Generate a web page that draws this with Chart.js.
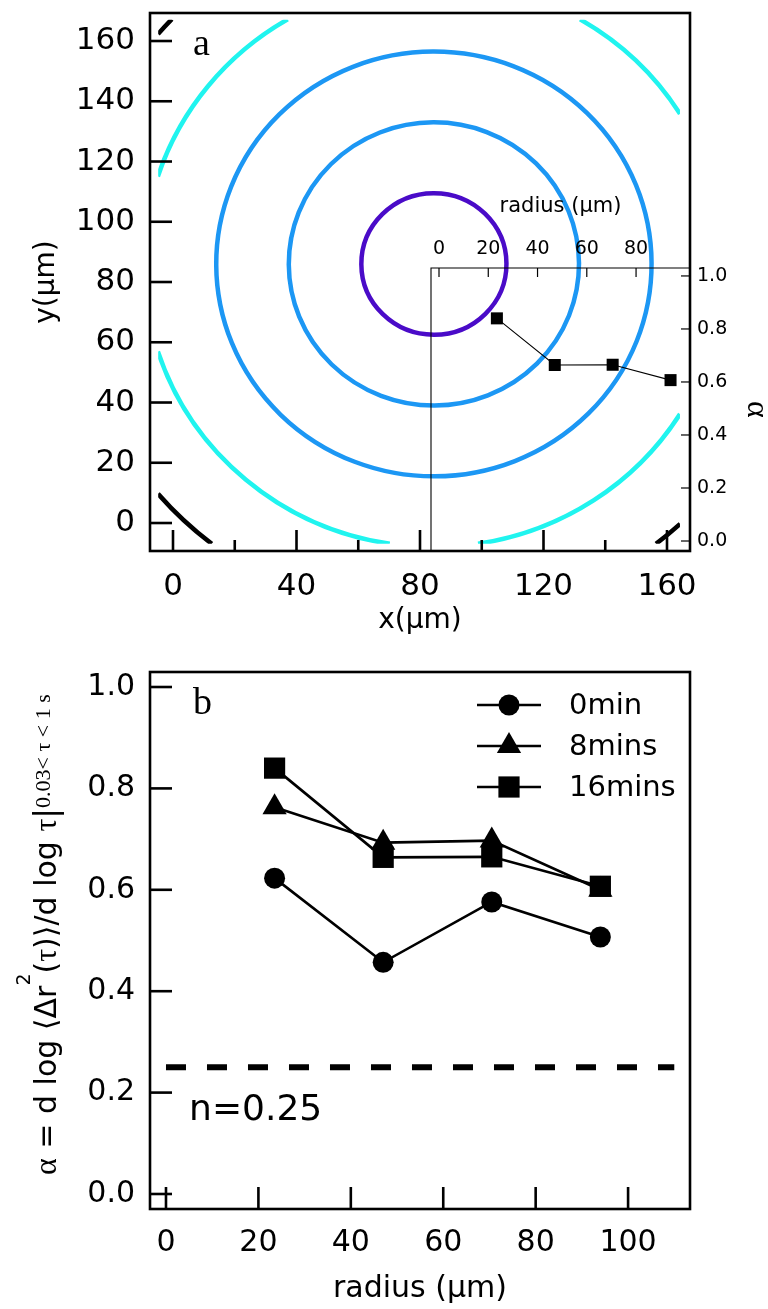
<!DOCTYPE html>
<html>
<head>
<meta charset="utf-8">
<script src="https://cdn.jsdelivr.net/npm/chart.js@4.4.1/dist/chart.umd.min.js"></script>
<style>
  html, body { margin: 0; padding: 0; background: #fff; }
  #wrap { position: relative; width: 768px; height: 1309px; overflow: hidden; }
  canvas { position: absolute; }
</style>
</head>
<body>
<div id="wrap">
  <canvas id="ringChart" width="768" height="650" style="left:0;top:0"></canvas>
  <canvas id="insetChart" width="388" height="400" style="left:380px;top:170px"></canvas>
  <canvas id="alphaChart" width="768" height="659" style="left:0;top:650px"></canvas>
</div>
<script>
// ---- data ----
const radii = [23.5, 47, 70.5, 94];              // radius of each ring (um)
const ringRadii = [23.5, 47, 70.5, 94, 117.5];   // rings drawn on the image (um)
const ringCenter = [84.5, 86];                   // x, y of ring centre (um)
const alpha0min = [0.623, 0.457, 0.576, 0.507];
const alpha8min = [0.763, 0.693, 0.697, 0.600];
const alpha16min = [0.840, 0.664, 0.665, 0.607];
const nLineX = [0, 110];
const nValue = 0.25;

// tick labels
const ringXTicks = [0, 40, 80, 120, 160];
const ringXMinor = [20, 60, 100, 140];
const ringYTicks = [0, 20, 40, 60, 80, 100, 120, 140, 160];
const insetXTicks = [0, 20, 40, 60, 80];
const alphaTicks = [0, 0.2, 0.4, 0.6, 0.8, 1.0];
const radiusTicks = [0, 20, 40, 60, 80, 100];

const ringColors = ['#4a0bc8', '#1c97f4', '#1c97f4', '#20f4ef', '#000000'];
const SANS = '"DejaVu Sans"';
const SERIF = '"Liberation Serif"';

Chart.defaults.font.family = SANS;
Chart.defaults.color = '#000';

function useTicks(values) {
  return function (scale) { scale.ticks = values.map(v => ({ value: v })); };
}
function fixSize(w, h) {
  return function (scale) {
    if (w !== null) scale.width = w;
    if (h !== null) scale.height = h;
    scale.paddingLeft = 0; scale.paddingRight = 0;
    scale.paddingTop = 0; scale.paddingBottom = 0;
  };
}

// inward ticks + frame
function makeDecor(cfg) {
  return {
    id: 'decor',
    afterDraw(chart) {
      const { ctx, chartArea: a, scales } = chart;
      ctx.save();
      ctx.strokeStyle = '#000';
      cfg.ticks.forEach(t => {
        const s = scales[t.axis];
        ctx.lineWidth = t.width;
        t.values.forEach(v => {
          const p = s.getPixelForValue(v);
          ctx.beginPath();
          if (t.side === 'bottom') { ctx.moveTo(p, a.bottom); ctx.lineTo(p, a.bottom - t.len); }
          else if (t.side === 'top') { ctx.moveTo(p, a.top); ctx.lineTo(p, a.top + t.len); }
          else if (t.side === 'left') { ctx.moveTo(a.left, p); ctx.lineTo(a.left + t.len, p); }
          else { ctx.moveTo(a.right, p); ctx.lineTo(a.right - t.len, p); }
          ctx.stroke();
        });
      });
      if (cfg.frame) {
        ctx.lineWidth = cfg.frame;
        ctx.strokeRect(a.left, a.top, a.right - a.left, a.bottom - a.top);
      }
      if (cfg.lines) {
        ctx.lineWidth = cfg.lines.width;
        ctx.beginPath();
        ctx.moveTo(a.left, a.bottom); ctx.lineTo(a.left, a.top); ctx.lineTo(a.right, a.top);
        ctx.stroke();
      }
      if (cfg.letter) {
        ctx.fillStyle = '#000';
        ctx.font = '38px ' + SERIF;
        ctx.textBaseline = 'alphabetic';
        ctx.fillText(cfg.letter, a.left + 43, a.top + 42);
      }
      ctx.restore();
    }
  };
}

// ---------- panel a : rings ----------
// the ring image only covers this part of the plot
const ringClip = { xMin: -4.8, xMax: 164.2, yMin: -6.9, yMax: 167.1 };
const ringPlugin = {
  id: 'rings',
  beforeDatasetsDraw(chart) {
    const { ctx, scales: { x, y } } = chart;
    const l = x.getPixelForValue(ringClip.xMin), r = x.getPixelForValue(ringClip.xMax);
    const tp = y.getPixelForValue(ringClip.yMax), b = y.getPixelForValue(ringClip.yMin);
    const cx = x.getPixelForValue(ringCenter[0]);
    const cy = y.getPixelForValue(ringCenter[1]);
    ctx.save();
    ctx.beginPath();
    ctx.rect(l, tp, r - l, b - tp);
    ctx.clip();
    ctx.lineWidth = 4.5;
    ringRadii.forEach((rad, i) => {
      const rx = Math.abs(x.getPixelForValue(ringCenter[0] + rad) - cx);
      const ry = Math.abs(y.getPixelForValue(ringCenter[1] + rad) - cy);
      // keep only the arcs whose centre line lies inside the image
      const n = 1440, step = Math.PI * 2 / n;
      const arcs = [];
      let start = null;
      for (let k = 0; k <= n; k++) {
        const t = k * step;
        const px = cx + rx * Math.cos(t), py = cy + ry * Math.sin(t);
        const inside = px >= l && px <= r && py >= tp && py <= b;
        if (inside && start === null) start = t;
        if ((!inside || k === n) && start !== null) { arcs.push([start - step, t]); start = null; }
      }
      ctx.strokeStyle = ringColors[i];
      arcs.forEach(([a0, a1]) => {
        ctx.beginPath();
        ctx.ellipse(cx, cy, rx, ry, 0, a0, a1);
        ctx.stroke();
      });
    });
    ctx.restore();
  }
};

new Chart(document.getElementById('ringChart'), {
  type: 'scatter',
  data: { datasets: [{ data: [] }] },
  options: {
    responsive: false,
    animation: false,
    layout: { padding: { top: 13, right: 78, bottom: 0, left: 0 } },
    plugins: { legend: { display: false }, tooltip: { enabled: false } },
    scales: {
      x: {
        type: 'linear', min: -7.45, max: 167.45,
        afterBuildTicks: useTicks(ringXTicks),
        afterFit: fixSize(null, 99),
        grid: { display: false, drawTicks: false },
        border: { display: false },
        ticks: { font: { size: 31 }, padding: 17 },
        title: { display: true, text: 'x(μm)', font: { size: 28 }, padding: { top: 0, bottom: 12 } }
      },
      y: {
        type: 'linear', min: -9.29, max: 169.3,
        afterBuildTicks: useTicks(ringYTicks),
        afterFit: fixSize(150, null),
        grid: { display: false, drawTicks: false },
        border: { display: false },
        ticks: { font: { size: 31 }, padding: 15 },
        title: { display: true, text: 'y(μm)', font: { size: 28 }, padding: { top: 30, bottom: 0 } }
      }
    }
  },
  plugins: [ringPlugin, makeDecor({
    frame: 2.6,
    letter: 'a',
    ticks: [
      { axis: 'x', side: 'bottom', values: ringXTicks, len: 21, width: 2.6 },
      { axis: 'x', side: 'bottom', values: ringXMinor, len: 11, width: 2.6 },
      { axis: 'y', side: 'left', values: ringYTicks, len: 22, width: 2.6 }
    ]
  })]
});

// ---------- panel a : inset alpha vs radius ----------
new Chart(document.getElementById('insetChart'), {
  type: 'scatter',
  data: {
    datasets: [{
      label: '16mins',
      data: radii.map((r, i) => ({ x: r, y: alpha16min[i] })),
      showLine: true,
      borderColor: '#000',
      borderWidth: 1.1,
      pointStyle: 'rect',
      pointRadius: 8.5,
      pointBackgroundColor: '#000',
      pointBorderColor: '#000',
      pointBorderWidth: 0
    }]
  },
  options: {
    responsive: false,
    animation: false,
    layout: { padding: { top: 0, right: 0, bottom: 19, left: 51 } },
    plugins: { legend: { display: false }, tooltip: { enabled: false } },
    scales: {
      x: {
        type: 'linear', position: 'top', min: -3.25, max: 101.9,
        afterBuildTicks: useTicks(insetXTicks),
        afterFit: fixSize(null, 98),
        grid: { display: false, drawTicks: false },
        border: { display: false },
        ticks: { font: { size: 19 }, padding: 8 },
        title: { display: true, text: 'radius (μm)', font: { size: 21 }, padding: { top: 24, bottom: 0 } }
      },
      y: {
        type: 'linear', position: 'right', min: -0.0377, max: 1.03,
        afterBuildTicks: useTicks(alphaTicks),
        afterFit: fixSize(78, null),
        grid: { display: false, drawTicks: false },
        border: { display: false },
        ticks: { font: { size: 19 }, padding: 7, callback: v => v.toFixed(1) },
        title: { display: true, text: 'α', font: { size: 32, family: SERIF, lineHeight: 0.7 }, padding: 0 }
      }
    }
  },
  plugins: [makeDecor({
    lines: { width: 1.1 },
    ticks: [
      { axis: 'x', side: 'top', values: insetXTicks, len: 9, width: 1.2 },
      { axis: 'y', side: 'right', values: alphaTicks, len: 9, width: 1.2 }
    ]
  })]
});

// ---------- panel b : alpha vs radius ----------
const series = [
  { label: '0min', values: alpha0min, style: 'circle', r: 10.5 },
  { label: '8mins', values: alpha8min, style: 'triangle', r: 14 },
  { label: '16mins', values: alpha16min, style: 'rect', r: 15 }
];

const legendPlugin = {
  id: 'bLegend',
  afterDraw(chart) {
    const { ctx, chartArea: a, scales: { x, y } } = chart;
    ctx.save();
    ctx.fillStyle = '#000';
    ctx.strokeStyle = '#000';
    series.forEach((s, i) => {
      const ry = a.top + 33 + i * 41;
      ctx.lineWidth = 2.6;
      ctx.beginPath();
      ctx.moveTo(a.right - 213, ry); ctx.lineTo(a.right - 149, ry);
      ctx.stroke();
      Chart.helpers.drawPoint(ctx, { pointStyle: s.style, rotation: 0, radius: s.r, borderWidth: 0 }, a.right - 181, ry);
      ctx.font = '29px ' + SANS;
      ctx.textBaseline = 'middle';
      ctx.fillText(s.label, a.right - 121, ry + 1);
    });
    // n = 0.25 label
    ctx.font = '36px ' + SANS;
    ctx.textBaseline = 'alphabetic';
    ctx.fillText('n=' + nValue.toFixed(2), x.getPixelForValue(5), y.getPixelForValue(0.145));

    // y-axis title with super/subscripts
    const runs = [
      { t: 'α', f: '32px ' + SERIF, dy: 0 },
      { t: ' = d log ⟨Δr', f: '30px ' + SANS, dy: 0 },
      { t: '2', f: '19px ' + SANS, dy: -26 },
      { t: '(', f: '30px ' + SANS, dy: 0 },
      { t: 'τ', f: '32px ' + SERIF, dy: 0 },
      { t: ')⟩/d log ', f: '30px ' + SANS, dy: 0 },
      { t: 'τ', f: '32px ' + SERIF, dy: 0 },
      { t: '|', f: '32px ' + SANS, dy: 0 },
      { t: '0.03< τ < 1 s', f: '22px ' + SERIF, dy: -6 }
    ];
    ctx.translate(56, 525);
    ctx.rotate(-Math.PI / 2);
    let px = 0;
    runs.forEach(r => {
      ctx.font = r.f;
      ctx.fillText(r.t, px, r.dy);
      px += ctx.measureText(r.t).width;
    });
    ctx.restore();
  }
};

new Chart(document.getElementById('alphaChart'), {
  type: 'scatter',
  data: {
    datasets: series.map(s => ({
      label: s.label,
      data: radii.map((r, i) => ({ x: r, y: s.values[i] })),
      showLine: true,
      borderColor: '#000',
      borderWidth: 2.6,
      pointStyle: s.style,
      pointRadius: s.r,
      pointBackgroundColor: '#000',
      pointBorderColor: '#000',
      pointBorderWidth: 0
    })).concat([{
      label: 'n=0.25',
      data: nLineX.map(v => ({ x: v, y: nValue })),
      showLine: true,
      borderColor: '#000',
      borderWidth: 6,
      borderDash: [20, 21],
      pointRadius: 0
    }])
  },
  options: {
    responsive: false,
    animation: false,
    layout: { padding: { top: 22, right: 78, bottom: 0, left: 0 } },
    plugins: { legend: { display: false }, tooltip: { enabled: false } },
    scales: {
      x: {
        type: 'linear', min: -3.46, max: 113.4,
        afterBuildTicks: useTicks(radiusTicks),
        afterFit: fixSize(null, 100),
        grid: { display: false, drawTicks: false },
        border: { display: false },
        ticks: { font: { size: 30 }, padding: 16 },
        title: { display: true, text: 'radius (μm)', font: { size: 30 }, padding: { top: 0, bottom: 2 } }
      },
      y: {
        type: 'linear', min: -0.0296, max: 1.0296,
        afterBuildTicks: useTicks(alphaTicks),
        afterFit: fixSize(150, null),
        grid: { display: false, drawTicks: false },
        border: { display: false },
        ticks: { font: { size: 30 }, padding: 15, callback: v => v.toFixed(1) }
      }
    }
  },
  plugins: [legendPlugin, makeDecor({
    frame: 2.6,
    letter: 'b',
    ticks: [
      { axis: 'x', side: 'bottom', values: radiusTicks, len: 22, width: 2.6 },
      { axis: 'y', side: 'left', values: alphaTicks, len: 22, width: 2.6 }
    ]
  })]
});
</script>
</body>
</html>
